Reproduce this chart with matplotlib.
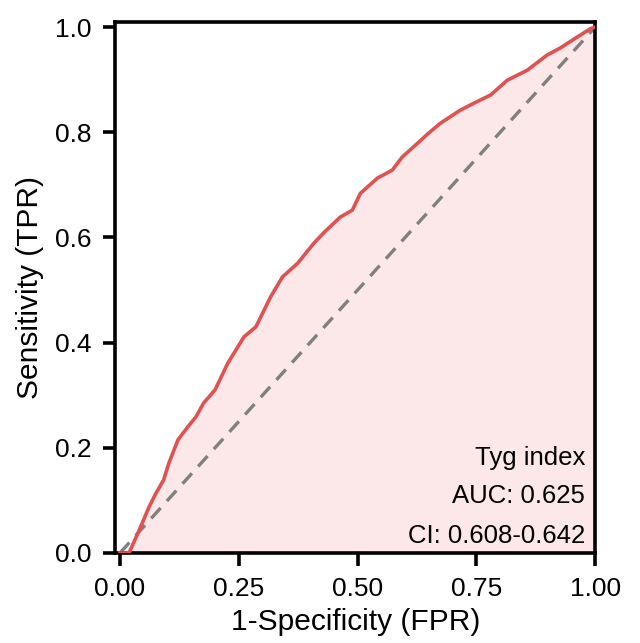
import matplotlib
matplotlib.use("Agg")
import matplotlib.pyplot as plt

# ROC points
fpr = [0.0, 0.019, 0.038, 0.061, 0.076, 0.092, 0.103, 0.122, 0.143, 0.16, 0.176, 0.2,
       0.227, 0.261, 0.286, 0.317, 0.342, 0.374, 0.408, 0.43, 0.464, 0.489, 0.506,
       0.542, 0.573, 0.594, 0.626, 0.649, 0.674, 0.716, 0.744, 0.78, 0.815, 0.857,
       0.899, 0.926, 0.962, 0.99, 1.0]
tpr = [0.0, 0.0, 0.038, 0.087, 0.114, 0.139, 0.171, 0.215, 0.24, 0.259, 0.285, 0.31,
       0.361, 0.411, 0.43, 0.487, 0.525, 0.551, 0.589, 0.61, 0.639, 0.652, 0.684,
       0.713, 0.728, 0.753, 0.779, 0.798, 0.817, 0.842, 0.855, 0.871, 0.899, 0.918,
       0.947, 0.96, 0.981, 0.997, 1.0]

model_name = "Tyg index"
auc = 0.625
ci_low, ci_high = 0.608, 0.642

plt.rcParams["font.family"] = ["Liberation Sans", "DejaVu Sans"]

fig = plt.figure(figsize=(6.4, 6.43), dpi=100)
ax = fig.add_axes([0.18, 0.14, 0.75, 0.826])

ax.fill_between(fpr, tpr, 0, color="#fce8e8", zorder=1)
ax.plot([0, 1], [0, 1], color="#808080", lw=2.4, ls=(0, (4.2, 2.8)), zorder=2)
ax.plot(fpr, tpr, color="#e05252", lw=2.6, zorder=3)

ax.set_xlim(-0.01, 1.0)
ax.set_ylim(0, 1.01)
ax.set_xticks([0, 0.25, 0.5, 0.75, 1.0])
ax.set_xticklabels(["0.00", "0.25", "0.50", "0.75", "1.00"])
ax.set_yticks([0, 0.2, 0.4, 0.6, 0.8, 1.0])
ax.set_yticklabels(["0.0", "0.2", "0.4", "0.6", "0.8", "1.0"])
ax.tick_params(direction="out", length=9, width=2.6, labelsize=19, pad=8)
for s in ax.spines.values():
    s.set_linewidth(2.6)

ax.set_xlabel("1-Specificity (FPR)", fontsize=21.5, labelpad=5)
ax.set_ylabel("Sensitivity (TPR)", fontsize=21.5, labelpad=8)

ax.text(0.979, 0.166, model_name, transform=ax.transAxes, ha="right", va="baseline", fontsize=18.5)
ax.text(0.979, 0.094, f"AUC: {auc:.3f}", transform=ax.transAxes, ha="right", va="baseline", fontsize=18.5)
ax.text(0.979, 0.019, f"CI: {ci_low:.3f}-{ci_high:.3f}", transform=ax.transAxes, ha="right", va="baseline", fontsize=18.5)

fig.savefig("out.png", dpi=100)
plt.close(fig)
